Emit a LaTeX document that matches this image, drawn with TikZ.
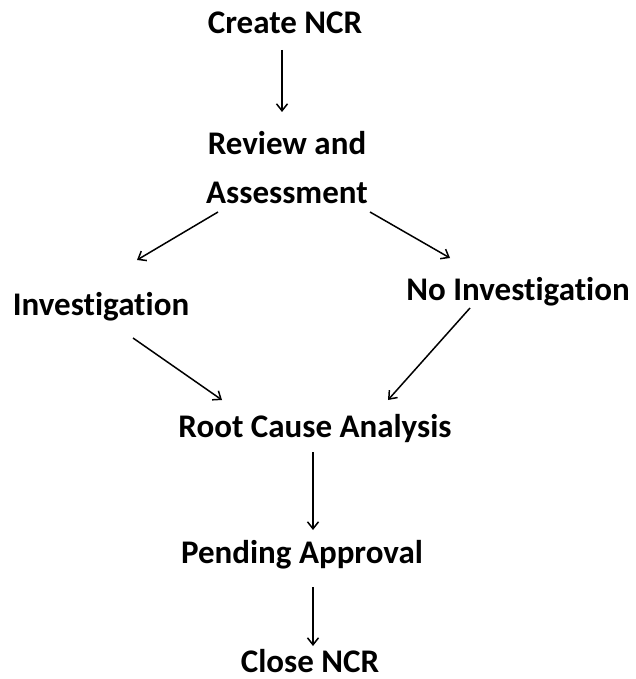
\documentclass[tikz,border=0pt]{standalone}
\usepackage{fontspec}
\setmainfont[Ligatures=NoCommon]{Carlito}
\usetikzlibrary{arrows.meta}

\begin{document}
\begin{tikzpicture}[x=1pt, y=-1pt,
    every node/.style={font=\fontsize{33}{48}\selectfont\bfseries, inner sep=0pt},
    stage/.style={anchor=base, align=center},
    flow/.style={line width=1.5pt, -{Straight Barb[length=7pt,width=11pt,line width=1.5pt]}},
]
\useasboundingbox (0,0) rectangle (636,679);

% Stages
\node[stage] (create)  at (285, 34)  {Create NCR};
\node[stage] (review)  at (287, 203) {Review and\\Assessment};
\node[stage] (inv)     at (101, 315) {Investigation};
\node[stage] (noinv)   at (518, 300) {No Investigation};
\node[stage] (rca)     at (315, 437) {Root Cause Analysis};
\node[stage] (pending) at (302, 563) {Pending Approval};
\node[stage] (close)   at (310, 672) {Close NCR};

% Flow
\draw[flow] ([xshift=-3pt,yshift=-16pt]create.base) -- ([xshift=-5pt,yshift=91pt]review.base);
\draw[flow] ([xshift=-69pt,yshift=-9pt]review.base) -- ([xshift=36pt,yshift=55pt]inv.base);
\draw[flow] ([xshift=83pt,yshift=-9pt]review.base) -- ([xshift=-68pt,yshift=42pt]noinv.base);
\draw[flow] ([xshift=32pt,yshift=-23pt]inv.base) -- ([xshift=-93pt,yshift=37pt]rca.base);
\draw[flow] ([xshift=-48pt,yshift=-8pt]noinv.base) -- ([xshift=73pt,yshift=37pt]rca.base);
\draw[flow] ([xshift=-2pt,yshift=-15pt]rca.base) -- ([xshift=11pt,yshift=33pt]pending.base);
\draw[flow] ([xshift=11pt,yshift=-24pt]pending.base) -- ([xshift=3pt,yshift=26pt]close.base);

\end{tikzpicture}
\end{document}
